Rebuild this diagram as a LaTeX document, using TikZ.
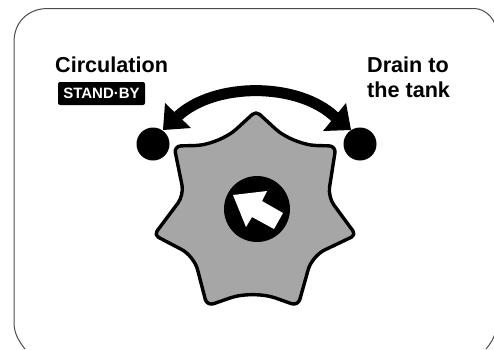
\documentclass[tikz,border=0pt]{standalone}
\usepackage{fontspec}
\setmainfont{Liberation Sans}
\tikzset{
  dot/.style={circle,fill=black,inner sep=0pt,minimum size=33pt},
  lab/.style={font=\fontsize{21.6}{25}\selectfont\bfseries,anchor=base west,inner sep=0pt,align=left},
  badge/.style={fill=black,text=white,rounded corners=2pt,font=\fontsize{15}{15}\selectfont\bfseries,inner sep=0pt,minimum width=87pt,minimum height=23pt},
}
\begin{document}
\begin{tikzpicture}[x=1pt,y=-1pt]
\useasboundingbox (0,0) rectangle (494,349);
\begin{scope}
\clip (0,0) rectangle (494,349);
\draw[black!70,line width=1pt] (25,349) .. controls (18,340) and (14,333) .. (14,322) -- (14,42) .. controls (14,22) and (28,8.5) .. (48,8.5) -- (474,8.5) .. controls (486,8.5) and (497,20) .. (497,34) -- (497,322) .. controls (497,333) and (492,342) .. (486,349);
\end{scope}
\node[lab] (circ) at (55,72.5) {Circulation};
\node[badge] (standby) at (101.5,93.5) {STAND·BY};
\node[lab,anchor=base west] (drain) at (367,72.3) {Drain to};
\node[lab,anchor=base west] (tank) at (367,97.3) {the tank};
\node[dot] (l) at (153,144) {};
\node[dot] (r) at (360,144) {};
\coordinate (sl) at (178,116);
\coordinate (sr) at (335,117);
\draw[line width=11pt] (sl) .. controls (215,82) and (298,82) .. (sr);
\fill (163,130) -- (165,103) -- (191,128) -- cycle;
\fill (351,130) -- (346,103) -- (323,131) -- cycle;
\draw[line width=3.4pt,fill=black!35,line join=round]
  [rounded corners=5pt] (256,111)
  [rounded corners=24pt] -- (293,145)
  [rounded corners=7pt] -- (336,146)
  [rounded corners=10pt] -- (328,197)
  [rounded corners=5pt] -- (356,235)
  [rounded corners=14pt] -- (312,256)
  [rounded corners=7pt] -- (298,306)
  [rounded corners=24pt] -- (253,290)
  [rounded corners=7pt] -- (207,306)
  [rounded corners=14pt] -- (194,256)
  [rounded corners=5pt] -- (154,235)
  [rounded corners=10pt] -- (184,195)
  [rounded corners=7pt] -- (174,146)
  [rounded corners=24pt] -- (219,145)
  [rounded corners=5pt] -- cycle;
\fill[black] (257,209) circle[radius=33];
\fill[white] (233,195) -- (267,191) -- (262,201) -- (283,213) -- (274,229) -- (252,217) -- (246,227) -- cycle;
\end{tikzpicture}
\end{document}
